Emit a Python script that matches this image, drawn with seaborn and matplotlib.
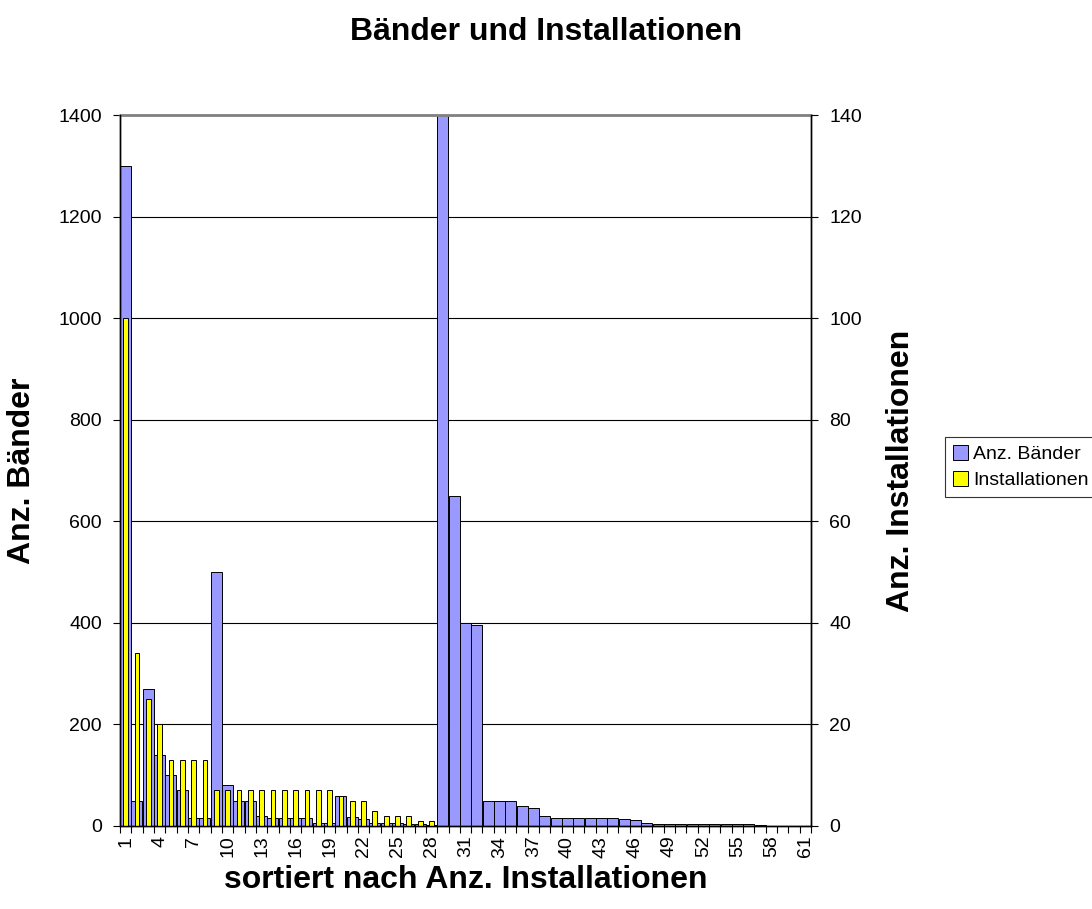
import matplotlib
matplotlib.use("Agg")
import matplotlib.pyplot as plt
import seaborn as sns
import pandas as pd
from matplotlib.patches import Patch
from matplotlib.ticker import FixedLocator, MultipleLocator

# Rank positions, sorted by number of installations
ranks = [str(i) for i in range(1, 62)]

# Number of tapes per rank (left axis)
baender = [1300, 50, 270, 140, 100, 70, 16, 16, 500, 80,
           50, 50, 20, 16, 16, 16, 16, 5, 5, 60,
           18, 14, 5, 5, 5, 3, 3, 1, 1600, 650,
           400, 395, 50, 50, 50, 40, 35, 20, 16, 16,
           16, 16, 16, 16, 13, 11, 5, 4, 4, 4,
           4, 4, 4, 4, 4, 4, 2, 0, 0, 0, 0]

# Number of installations per rank (right axis)
installationen = [100, 34, 25, 20, 13, 13, 13, 13, 7, 7,
                  7, 7, 7, 7, 7, 7, 7, 7, 7, 6,
                  5, 5, 3, 2, 2, 2, 1, 1, 0, 0,
                  0, 0, 0, 0, 0, 0, 0, 0, 0, 0,
                  0, 0, 0, 0, 0, 0, 0, 0, 0, 0,
                  0, 0, 0, 0, 0, 0, 0, 0, 0, 0, 0]

tick_labels = [str(i) for i in range(1, 62, 3)]

blue = "#9999FF"
yellow = "#FFFF00"

sns.set_theme(style="white")
plt.rcParams["font.family"] = ["Liberation Sans", "DejaVu Sans"]
plt.rcParams["text.color"] = "black"
plt.rcParams["axes.labelcolor"] = "black"
plt.rcParams["xtick.color"] = "black"
plt.rcParams["ytick.color"] = "black"

df = pd.DataFrame({"rang": ranks, "baender": baender, "inst": installationen})

W, H = 1092, 909
L, R, T, B = 120, 811, 115, 826
fig = plt.figure(figsize=(W / 100, H / 100), dpi=100)
ax = fig.add_axes([L / W, 1 - B / H, (R - L) / W, (B - T) / H])
ax2 = ax.twinx()

sns.barplot(data=df, x="rang", y="baender", order=ranks, color=blue, saturation=1,
            width=0.97, edgecolor="black", linewidth=0.7, ax=ax)
sns.barplot(data=df, x="rang", y="inst", order=ranks, color=yellow, saturation=1,
            width=0.42, edgecolor="black", linewidth=0.7, ax=ax2)

ax.set_xlim(-0.5, len(ranks) - 0.5)
ax.set_ylim(0, 1400)
ax2.set_ylim(0, 140)
ax.yaxis.set_major_locator(MultipleLocator(200))
ax2.yaxis.set_major_locator(MultipleLocator(20))

# Category labels every third rank, tick marks at the category boundaries
fs = 14
ax.set_xticks(range(0, len(ranks), 3))
ax.set_xticklabels(tick_labels, rotation=90, fontsize=fs)
ax.xaxis.set_minor_locator(FixedLocator([i - 0.5 for i in range(len(ranks) + 1)]))
ax.tick_params(axis="x", which="major", length=0, pad=7)
ax.tick_params(axis="x", which="minor", length=5, width=0.8, color="black", direction="out", bottom=True)
ax.tick_params(axis="y", length=5, width=0.8, color="black", direction="out", left=True, labelsize=fs, pad=8)
ax2.tick_params(axis="y", length=5, width=0.8, color="black", direction="out", right=True, labelsize=fs, pad=8)
ax2.tick_params(axis="x", which="both", length=0, labelbottom=False)

ax.grid(axis="y", color="black", linewidth=0.8)
ax.grid(axis="x", visible=False)
ax2.grid(False)
ax.set_axisbelow(True)

for a in (ax, ax2):
    a.spines["top"].set_visible(False)
    for s in ("left", "right", "bottom"):
        a.spines[s].set_color("black")
        a.spines[s].set_linewidth(1.0)
ax.axhline(1400, color="#808080", linewidth=2, clip_on=False, zorder=5)

lfs = 23
ax.set_xlabel("sortiert nach Anz. Installationen", fontsize=lfs, fontweight="bold", va="center")
ax.set_ylabel("Anz. Bänder", fontsize=lfs, fontweight="bold", va="center")
ax2.set_ylabel("Anz. Installationen", fontsize=lfs, fontweight="bold", va="center")
ax.xaxis.set_label_coords(0.5, (B - 880) / (B - T))
ax.yaxis.set_label_coords((22 - L) / (R - L), 0.5)
ax2.yaxis.set_label_coords((901 - L) / (R - L), 0.5)

fig.text(0.5, 1 - 32 / H, "Bänder und Installationen", ha="center", va="center",
         fontsize=lfs, fontweight="bold")

handles = [Patch(facecolor=blue, edgecolor="black", linewidth=0.7, label="Anz. Bänder"),
           Patch(facecolor=yellow, edgecolor="black", linewidth=0.7, label="Installationen")]
leg = fig.legend(handles=handles, loc="center left", bbox_to_anchor=(945 / W, 1 - 467 / H),
                 fontsize=fs, frameon=True, fancybox=False, edgecolor="black",
                 handlelength=0.8, handleheight=0.8, handletextpad=0.25,
                 borderpad=0.4, labelspacing=0.4, borderaxespad=0)
leg.get_frame().set_linewidth(0.8)

fig.savefig("out.png", dpi=100)
